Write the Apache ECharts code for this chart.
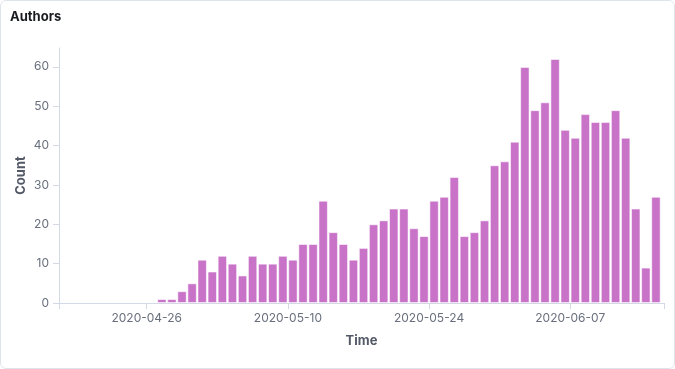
<!DOCTYPE html>
<html>
<head>
<meta charset="utf-8">
<script src="https://cdn.jsdelivr.net/npm/echarts@6/dist/echarts.min.js"></script>
<style>
  html, body { margin: 0; padding: 0; background: #fff; }
  #wrap { position: relative; width: 675px; height: 369px; }
  #chart { position: absolute; left: 0; top: 0; width: 675px; height: 369px; }
  #frame { position: absolute; left: 0; top: 0; width: 675px; height: 369px; box-sizing: border-box;
           border: 1px solid #dfe4ec; border-radius: 6px; pointer-events: none; }
</style>
</head>
<body>
<div id="wrap"><div id="chart"></div><div id="frame"></div></div>
<script>
// ---- data ----
const titleText = 'Authors';
const xAxisName = 'Time';
const yAxisName = 'Count';

const dates = [
  '2020-04-27','2020-04-28','2020-04-29','2020-04-30','2020-05-01','2020-05-02','2020-05-03',
  '2020-05-04','2020-05-05','2020-05-06','2020-05-07','2020-05-08','2020-05-09','2020-05-10',
  '2020-05-11','2020-05-12','2020-05-13','2020-05-14','2020-05-15','2020-05-16','2020-05-17',
  '2020-05-18','2020-05-19','2020-05-20','2020-05-21','2020-05-22','2020-05-23','2020-05-24',
  '2020-05-25','2020-05-26','2020-05-27','2020-05-28','2020-05-29','2020-05-30','2020-05-31',
  '2020-06-01','2020-06-02','2020-06-03','2020-06-04','2020-06-05','2020-06-06','2020-06-07',
  '2020-06-08','2020-06-09','2020-06-10','2020-06-11','2020-06-12','2020-06-13','2020-06-14',
  '2020-06-15'
];
const counts = [
  1, 1, 3, 5, 11, 8, 12,
  10, 7, 12, 10, 10, 12, 11,
  15, 15, 26, 18, 15, 11, 14,
  20, 21, 24, 24, 19, 17, 26,
  27, 32, 17, 18, 21, 35, 36,
  41, 60, 49, 51, 62, 44, 42,
  48, 46, 46, 49, 42, 24, 9,
  27
];
const tickLabels = ['2020-04-26', '2020-05-10', '2020-05-24', '2020-06-07'];
const yTicks = [0, 10, 20, 30, 40, 50, 60];

// ---- build ----
const originDate = tickLabels[0];
const DAY = 86400000;
function dayOffset(s) {
  const [y, m, d] = s.split('-').map(Number);
  const [oy, om, od] = originDate.split('-').map(Number);
  return (Date.UTC(y, m - 1, d) - Date.UTC(oy, om - 1, od)) / DAY;
}
const tickDays = tickLabels.map(dayOffset);
const labelByDay = {};
tickLabels.forEach((t, i) => { labelByDay[tickDays[i]] = t; });

const xMin = -8.7, xMax = 51.3;
const seriesData = dates.map((d, i) => [dayOffset(d) + 0.5, counts[i]]);

const chart = echarts.init(document.getElementById('chart'), null, { renderer: 'canvas' });
const axisColor = '#d3dae6';
const labelColor = '#69707d';
const nameColor = '#535966';
const fontFam = 'Inter, "Noto Sans", sans-serif';

chart.setOption({
  animation: false,
  title: {
    text: titleText, left: 5, top: 6,
    textStyle: { fontFamily: fontFam, fontSize: 13, fontWeight: 700, color: '#1a1c21' }
  },
  grid: { left: 59, right: 11, top: 48, bottom: 66, containLabel: false },
  xAxis: {
    type: 'value', min: xMin, max: xMax,
    name: xAxisName, nameLocation: 'middle', nameGap: 32,
    nameTextStyle: { fontFamily: fontFam, fontSize: 13, fontWeight: 700, color: nameColor },
    axisLine: { show: true, onZero: false, lineStyle: { color: axisColor, width: 1 } },
    axisTick: { show: true, length: 6, lineStyle: { color: axisColor }, customValues: [xMin].concat(tickDays, [xMax]) },
    axisLabel: {
      customValues: tickDays, margin: 9,
      fontFamily: fontFam, fontSize: 12, color: labelColor,
      formatter: v => labelByDay[v] || ''
    },
    splitLine: { show: false }
  },
  yAxis: {
    type: 'value', min: 0, max: 64.8, interval: 10,
    name: yAxisName, nameLocation: 'middle', nameGap: 31, nameRotate: 90,
    nameMoveOverlap: false,
    nameTextStyle: { fontFamily: fontFam, fontSize: 13, fontWeight: 700, color: nameColor },
    axisLine: { show: true, onZero: false, lineStyle: { color: axisColor, width: 1 } },
    axisTick: { show: true, length: 6, lineStyle: { color: axisColor } },
    axisLabel: {
      margin: 10, showMaxLabel: false,
      fontFamily: fontFam, fontSize: 12, color: labelColor,
      formatter: v => (yTicks.indexOf(v) >= 0 ? String(v) : '')
    },
    splitLine: { show: false }
  },
  series: [{
    type: 'bar',
    data: seriesData,
    barWidth: 9.4,
    itemStyle: { color: '#c872c8', borderColor: 'rgba(255,255,255,0.55)', borderWidth: 1 }
  }]
});
</script>
</body>
</html>
